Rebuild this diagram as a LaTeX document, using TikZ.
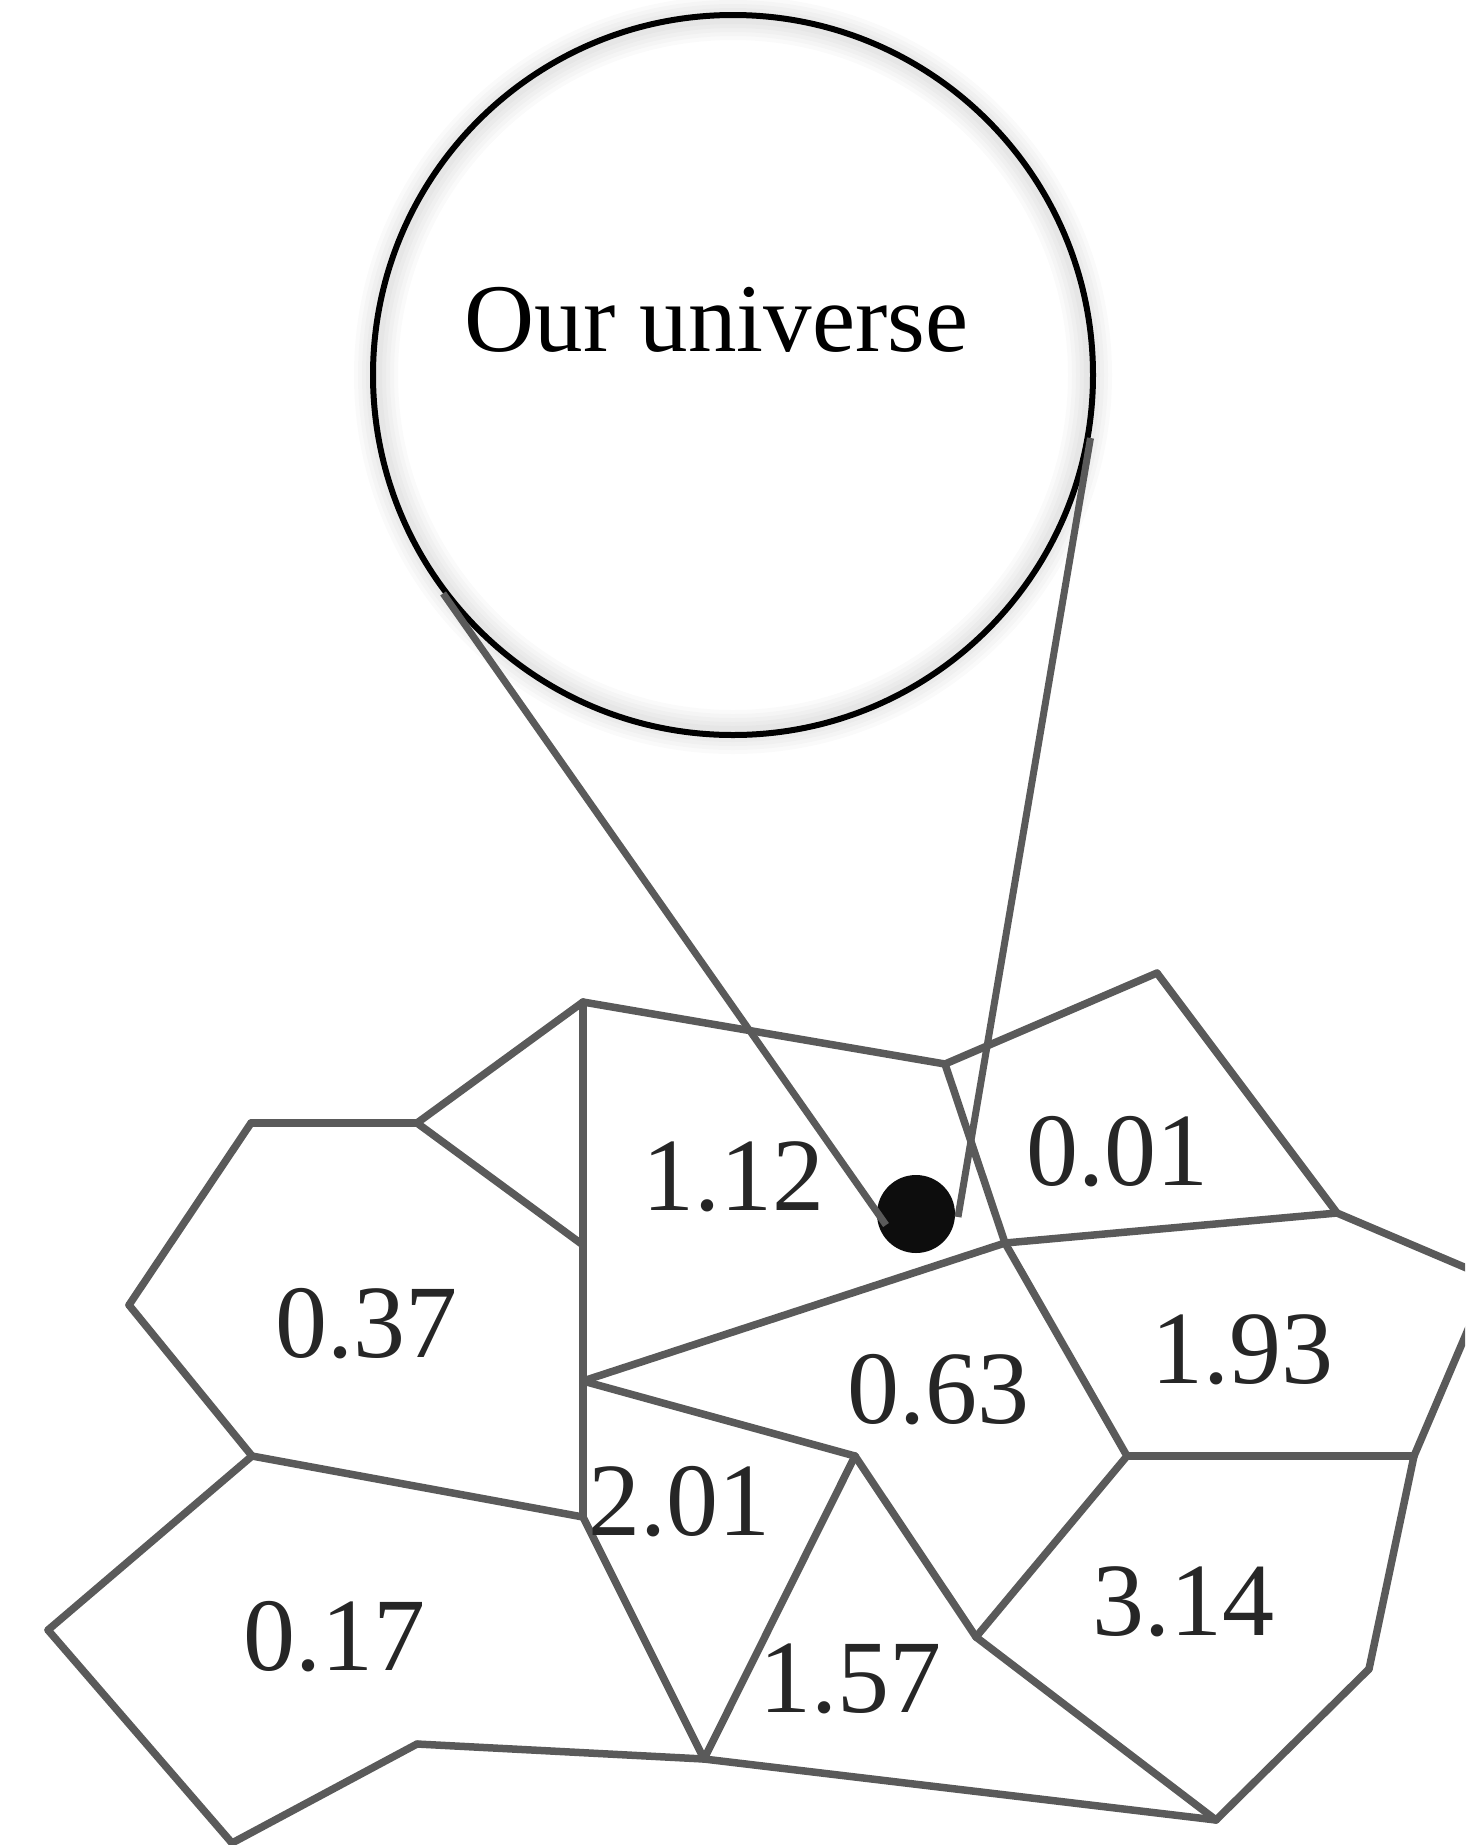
\documentclass[tikz,border=0pt]{standalone}
\usepackage{fontspec}
\setmainfont{Liberation Serif}
\definecolor{edgec}{HTML}{5A5A5A}
\definecolor{numc}{HTML}{262626}
\definecolor{dotc}{HTML}{0D0D0D}
\tikzset{
  cell/.style={draw=edgec, line width=7.5pt, line cap=round, line join=round},
  num/.style={text=numc, anchor=base, inner sep=0pt, font=\fontsize{104}{110}\selectfont},
  lensline/.style={draw=edgec, line width=7pt},
}
\begin{document}
\begin{tikzpicture}[x=1pt,y=-1pt]
\useasboundingbox (0,0) rectangle (1465,1845);
\clip (0,0) rectangle (1465,1845);
% vertices
\coordinate (A) at (583,1002);
\coordinate (B) at (945,1064);
\coordinate (C) at (1157,973);
\coordinate (D) at (1337,1213);
\coordinate (E) at (1005,1243);
\coordinate (F) at (1490,1278);
\coordinate (G) at (1414,1456);
\coordinate (H) at (1127,1456);
\coordinate (I) at (1369,1669);
\coordinate (J) at (1216,1820);
\coordinate (K) at (976,1637);
\coordinate (L) at (855,1456);
\coordinate (M) at (704,1759);
\coordinate (N) at (583,1517);
\coordinate (O) at (583,1381);
\coordinate (P) at (583,1245);
\coordinate (Q) at (417,1123);
\coordinate (R) at (251,1123);
\coordinate (S) at (129,1305);
\coordinate (T) at (252,1456);
\coordinate (U) at (48,1630);
\coordinate (V) at (232,1843);
\coordinate (W) at (417,1744);
% cells
\draw[cell] (A) -- (B);
\draw[cell] (B) -- (C);
\draw[cell] (C) -- (D);
\draw[cell] (D) -- (E);
\draw[cell] (B) -- (E);
\draw[cell] (D) -- (F);
\draw[cell] (F) -- (G);
\draw[cell] (E) -- (H);
\draw[cell] (H) -- (G);
\draw[cell] (G) -- (I);
\draw[cell] (I) -- (J);
\draw[cell] (J) -- (K);
\draw[cell] (K) -- (H);
\draw[cell] (K) -- (L);
\draw[cell] (L) -- (O);
\draw[cell] (L) -- (M);
\draw[cell] (E) -- (O);
\draw[cell] (M) -- (J);
\draw[cell] (N) -- (M);
\draw[cell] (W) -- (M);
\draw[cell] (W) -- (V);
\draw[cell] (V) -- (U);
\draw[cell] (U) -- (T);
\draw[cell] (T) -- (N);
\draw[cell] (T) -- (S);
\draw[cell] (S) -- (R);
\draw[cell] (R) -- (Q);
\draw[cell] (Q) -- (A);
\draw[cell] (Q) -- (P);
\draw[cell] (A) -- (N);
% labels
\node[num] (l112) at (733,1210) {1.12};
\node[num] (l001) at (1117,1185) {0.01};
\node[num] (l037) at (366,1357) {0.37};
\node[num] (l063) at (938,1423) {0.63};
\node[num] (l193) at (1242,1383) {1.93};
\node[num] (l201) at (679,1535) {2.01};
\node[num] (l017) at (334,1670) {0.17};
\node[num] (l157) at (850,1712) {1.57};
\node[num] (l314) at (1183,1635) {3.14};
% lens: white disc, soft glow, then outline
\fill[white] (733,375) circle (357);
\foreach \w in {44,36,28,20,12} {
  \draw[black, opacity=0.02, line width=\w pt] (733,375) circle (357);
}
\node[circle, draw=black, line width=6pt, minimum size=720pt, inner sep=0pt] (lens) at (733,375) {};
\node[anchor=base, inner sep=0pt, font=\fontsize{97}{110}\selectfont] (title) at (716.5,351.5) {Our universe};
% dot
\node[circle, fill=dotc, minimum size=78pt, inner sep=0pt] (dot) at (916,1214) {};
\coordinate (d1) at (886,1225);
\coordinate (d2) at (958,1217);
\draw[lensline] (lens.217) -- (d1);
\draw[lensline] (lens.-10) -- (d2);
\end{tikzpicture}
\end{document}
